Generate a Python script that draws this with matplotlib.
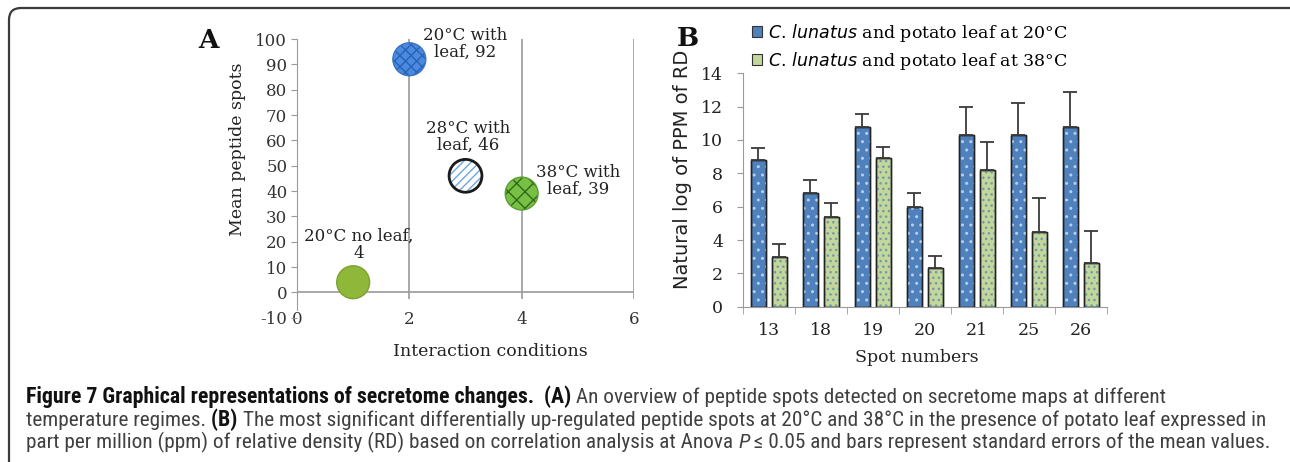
import matplotlib

matplotlib.use("Agg")
import matplotlib.pyplot as plt
import numpy as np
from matplotlib import font_manager
from matplotlib.patches import FancyBboxPatch, Patch

W, H = 1290, 462

# Panel A data
cond_x = [1, 2, 3, 4]
cond_y = [4, 92, 46, 39]
cond_labels = ["20°C no leaf,\n4", "20°C with\nleaf, 92", "28°C with\nleaf, 46", "38°C with\nleaf, 39"]
a_xticks = [0, 2, 4, 6]
a_yticks = list(range(-10, 101, 10))

# Panel B data
spots = ["13", "18", "19", "20", "21", "25", "26"]
mean_20 = [8.8, 6.8, 10.8, 6.0, 10.3, 10.3, 10.8]
err_20 = [0.7, 0.8, 0.75, 0.8, 1.7, 1.9, 2.1]
mean_38 = [3.0, 5.4, 8.9, 2.3, 8.2, 4.5, 2.65]
err_38 = [0.75, 0.8, 0.7, 0.75, 1.7, 2.0, 1.9]
series_labels = [r"$\mathit{C.\,lunatus}$ and potato leaf at 20°C",
                 r"$\mathit{C.\,lunatus}$ and potato leaf at 38°C"]

plt.rcParams["mathtext.fontset"] = "custom"
plt.rcParams["mathtext.it"] = "DejaVu Sans:italic"
plt.rcParams["mathtext.rm"] = "DejaVu Serif"
plt.rcParams["hatch.linewidth"] = 1.0
plt.rcParams["axes.unicode_minus"] = False

SERIF = "DejaVu Serif"
CAP_FONT = "DejaVu Sans"
for cand in ["Liberation Sans Narrow", "Roboto Condensed", "Open Sans Condensed",
             "Noto Sans Condensed", "Liberation Sans"]:
    try:
        font_manager.findfont(cand, fallback_to_default=False)
        CAP_FONT = cand
        break
    except Exception:
        pass

fig = plt.figure(figsize=(W / 100, H / 100), dpi=100)

# outer rounded frame (open at right/bottom, as in the cropped figure)
frame = FancyBboxPatch((0.09, -1.0), 20, 4.54 + 1.0, boxstyle="round,pad=0,rounding_size=0.12",
                       transform=fig.dpi_scale_trans, fill=False,
                       edgecolor="#3a3a3a", linewidth=1.6)
fig.add_artist(frame)

# ---------------- Panel A ----------------
axA = fig.add_axes([297 / W, 1 - 317.7 / H, (634 - 297) / W, (317.7 - 39) / H])
axA.set_xlim(0, 6)
axA.set_ylim(-10, 100)
for s in ["top", "right", "bottom"]:
    axA.spines[s].set_visible(False)
axA.spines["left"].set_color("#9a9a9a")
axA.spines["left"].set_bounds(-7, 100)
axA.vlines(a_xticks[1:], -2.5, 100, color="#9a9a9a", linewidth=1.2, zorder=1)
axA.hlines(0, 0, 6, color="#9a9a9a", linewidth=1.2, zorder=1)
axA.set_xticks(a_xticks)
axA.set_yticks(a_yticks)
axA.tick_params(axis="x", length=0, pad=-5, labelsize=12, colors="#333333")
axA.tick_params(axis="y", length=4, color="#9a9a9a", labelsize=12, labelcolor="#333333", pad=3)
for lab in axA.get_xticklabels() + axA.get_yticklabels():
    lab.set_family(SERIF)

face = ["#8fb83a", "#4a8ae0", "white", "#78c043"]
hatch_col = [None, "#2a62b4", "#6fa6df", "#2f6a1c"]
hatches = [None, "xxx", "////", "xx"]
edge = ["#7aa22f", "#3a74c0", "#1a1a1a", "#5e9e32"]
for i in range(len(cond_x)):
    axA.scatter(cond_x[i], cond_y[i], s=560, color=face[i], edgecolors="none", zorder=3)
    if hatches[i]:
        axA.scatter(cond_x[i], cond_y[i], s=560, facecolors="none", edgecolors=hatch_col[i],
                    hatch=hatches[i], linewidths=0, zorder=4)
    axA.scatter(cond_x[i], cond_y[i], s=560, facecolors="none", edgecolors=edge[i],
                linewidths=2.0 if i == 2 else 1.0, zorder=5)

offsets = [(4, 27), (40, 11), (2, 28), (41, 9)]
for i in range(len(cond_x)):
    axA.annotate(cond_labels[i], (cond_x[i], cond_y[i]), xytext=offsets[i],
                 textcoords="offset points", ha="center", va="center",
                 fontsize=12, family=SERIF, color="#222222", linespacing=1.0,
                 zorder=6)

fig.text(237 / W, 1 - 149 / H, "Mean peptide spots", rotation=90, ha="center", va="center",
         fontsize=12.5, family=SERIF, color="#222222")
fig.text(490 / W, 1 - 352 / H, "Interaction conditions", ha="center", va="center",
         fontsize=12.5, family=SERIF, color="#222222")
fig.text(208 / W, 1 - 40 / H, "A", ha="center", va="center", fontsize=19,
         family=SERIF, weight="bold", color="#111111")

# ---------------- Panel B ----------------
axB = fig.add_axes([742.7 / W, 1 - 306.7 / H, 364 / W, 233.4 / H])
x = np.arange(len(spots))
bw = 0.29
off = 0.2
blue, green = "#4f81bd", "#c3d69b"
axB.bar(x - off, mean_20, bw, color=blue, edgecolor="#222222", linewidth=1.0, zorder=2)
axB.bar(x - off, mean_20, bw, facecolor="none", edgecolor="#b9cdea", hatch="..",
        linewidth=0, zorder=3)
axB.bar(x + off, mean_38, bw, color=green, edgecolor="#222222", linewidth=1.0, zorder=2)
axB.bar(x + off, mean_38, bw, facecolor="none", edgecolor="#6f9aa8", hatch="...",
        linewidth=0, zorder=3)
axB.bar(x - off, mean_20, bw, facecolor="none", edgecolor="#222222", linewidth=1.0, zorder=4)
axB.bar(x + off, mean_38, bw, facecolor="none", edgecolor="#222222", linewidth=1.0, zorder=4)
zeros = np.zeros(len(spots))
axB.errorbar(x - off, mean_20, yerr=[zeros, err_20], fmt="none", ecolor="#3a3a3a",
             elinewidth=1.3, capsize=5, capthick=1.3, zorder=5)
axB.errorbar(x + off, mean_38, yerr=[zeros, err_38], fmt="none", ecolor="#3a3a3a",
             elinewidth=1.3, capsize=5, capthick=1.3, zorder=5)

axB.set_xlim(-0.5, len(spots) - 0.5)
axB.set_ylim(0, 14)
axB.set_yticks(np.arange(0, 15, 2))
for s in ["top", "right"]:
    axB.spines[s].set_visible(False)
for s in ["left", "bottom"]:
    axB.spines[s].set_color("#9a9a9a")
axB.set_xticks(x)
axB.set_xticklabels(spots)
axB.set_xticks(np.arange(-0.5, len(spots), 1), minor=True)
axB.tick_params(axis="x", which="major", length=0, pad=11, labelsize=12.5, colors="#222222")
axB.tick_params(axis="x", which="minor", length=5, color="#9a9a9a")
axB.tick_params(axis="y", length=4, color="#9a9a9a", labelsize=12.5, labelcolor="#222222", pad=10)
for lab in axB.get_xticklabels() + axB.get_yticklabels():
    lab.set_family(SERIF)

fig.text(683 / W, 1 - 169 / H, "Natural log of PPM of RD", rotation=90, ha="center",
         va="center", fontsize=14, family="DejaVu Sans", color="#222222")
fig.text(917 / W, 1 - 357 / H, "Spot numbers", ha="center", va="center",
         fontsize=12.5, family=SERIF, color="#222222")
fig.text(688 / W, 1 - 38 / H, "B", ha="center", va="center", fontsize=19,
         family=SERIF, weight="bold", color="#111111")

handles = [Patch(facecolor=blue, edgecolor="#333333", linewidth=0.8),
           Patch(facecolor=green, edgecolor="#333333", linewidth=0.8)]
fig.legend(handles, series_labels, loc="upper left", bbox_to_anchor=(752 / W, 1 - 22 / H),
           frameon=False, handlelength=0.6, handleheight=0.6, handletextpad=0.35,
           labelspacing=0.35, borderaxespad=0, borderpad=0,
           prop={"family": SERIF, "size": 12.5})

# ---------------- Caption ----------------
caption = [
    [("Figure 7 Graphical representations of secretome changes. ", "bold", "normal"),
     (" (A)", "bold", "normal"),
     (" An overview of peptide spots detected on secretome maps at different", "normal", "normal")],
    [("temperature regimes.", "normal", "normal"),
     (" (B)", "bold", "normal"),
     (" The most significant differentially up-regulated peptide spots at 20°C and 38°C in the "
      "presence of potato leaf expressed in", "normal", "normal")],
    [("part per million (ppm) of relative density (RD) based on correlation analysis at Anova ",
      "normal", "normal"),
     ("P", "normal", "italic"),
     (" ≤ 0.05 and bars represent standard errors of the mean values.", "normal", "normal")],
]
line_y = [397, 420, 442]
renderer = fig.canvas.get_renderer()


def draw_line(row, yy, size):
    xpos = 26 / W
    items = []
    for txt, wt, st in row:
        t = fig.text(xpos, 1 - yy / H, txt, ha="left", va="center",
                     fontsize=size * (1.03 if wt == "bold" else 1.0),
                     family=CAP_FONT, weight=wt, style=st,
                     color="#111111" if wt == "bold" else "#404040")
        xpos += t.get_window_extent(renderer).width / W
        items.append(t)
    return items, xpos * W


# fit the caption size so the third line ends where it does in the figure
probe, end = draw_line(caption[2], line_y[2], 10)
for t in probe:
    t.remove()
cap_size = 10 * (1262 - 26) / (end - 26)
for row, yy in zip(caption, line_y):
    draw_line(row, yy, cap_size)

fig.savefig("out.png", dpi=100)
